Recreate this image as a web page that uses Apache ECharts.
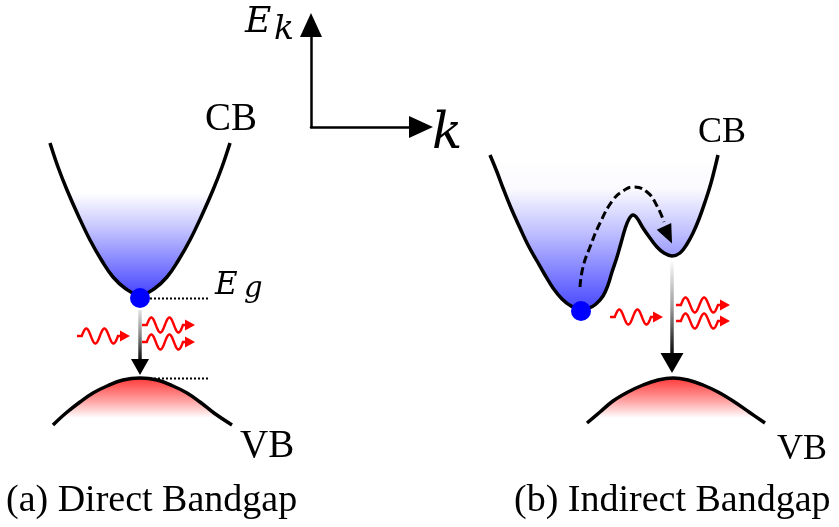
<!DOCTYPE html>
<html>
<head>
<meta charset="utf-8">
<title>Direct and Indirect Bandgap</title>
<script src="https://cdn.jsdelivr.net/npm/echarts@6/dist/echarts.min.js"></script>
<style>
  html, body { margin: 0; padding: 0; background: #ffffff; }
  #chart { width: 839px; height: 527px; }
</style>
</head>
<body>
<div id="chart"></div>
<script>
// Drawing frame: x runs left to right, y runs top to bottom (0 at the top edge).

// (a) direct gap: conduction band and valence band
const cbDirect = [[50,143],[58,167],[67,190],[78,215],[90,240],[102,261],[113,277],[126,289],[140,295],[154,289],[167,277],[178,261],[190,240],[202,215],[213,190],[222,167],[230,143]];
const vbDirect = [[53,425],[66,413],[80,402],[93,393],[107,386],[123,380],[140,378],[157,380],[173,386],[187,393],[200,402],[214,413],[232,425]];

// (b) indirect gap: conduction band with two valleys, valence band
const cbIndirect = [[490,155],[497,172],[503,188],[511,208],[520,228],[528,245],[537,261],[545,275],[553,288],[562,299],[571,306],[580,309],[589,308],[596,304],[603,296],[608,285],[612,272],[617,257],[621,243],[625,229],[629,219],[633,215],[637,218],[643,228],[650,238],[657,247],[664,253],[672,256],[680,253],[687,244],[693,233],[699,219],[705,202],[711,183],[718,155]];
const vbIndirect = [[587,423],[600,412],[613,401],[628,392],[643,385],[658,380],[673,378],[688,380],[703,385],[718,392],[733,401],[749,412],[765,423]];

// electron path between the valleys (phonon-assisted transfer)
const transferPath = [[580,287],[583,267],[590,247],[600,223],[613,200],[623,191],[633,187],[647,192],[657,206],[664,222]];
const transferHead = [[668,235]];

// electrons sitting at the conduction band minima
const electrons = [[140,298],[581,311]];

// band-edge reference levels (direct gap)
const gapTop = [[150,298.5],[210,298.5]];
const gapBottom = [[142,378.5],[210,378.5]];

// recombination arrows: shaft and arrowhead centre
const recombDirect = [[140,310],[140,360]];
const recombIndirect = [[672,262],[672,354]];
const headDirect = [[140,367]];
const headIndirect = [[672,363]];

// photons: [x start, y level, x end]
const photons = [[77,336,130],[142,325,195],[142,342,195],[610,317,663],[676,305,730],[676,321,730]];

// panel limits
const frameX = [0, 839];
const frameY = [0, 527];
const cbOriginDirect = 143, cbOriginIndirect = 155, vbOrigin = 425;

const SERIF = 'Liberation Serif';
const MATH = 'DejaVu Serif';

function vGrad(stops) {
  return { type: 'linear', x: 0, y: 0, x2: 0, y2: 1,
    colorStops: stops.map(s => ({ offset: s[0], color: s[1] })) };
}

const cbFillDirect = vGrad([[0,'#ffffff'],[0.33,'#ffffff'],[0.55,'#c8c8ff'],[1,'#4646ff']]);
const cbFillIndirect = vGrad([[0,'#ffffff'],[0.22,'#fafaff'],[0.5,'#c0c0ff'],[1,'#4848ff']]);
const vbFill = vGrad([[0,'#ff3a3a'],[0.45,'#ff9a9a'],[0.85,'#ffffff'],[1,'#ffffff']]);

function bandSeries(data, origin, fill) {
  return {
    type: 'line', data: data, smooth: 0.4, showSymbol: false, silent: true,
    lineStyle: { color: '#000', width: 3.5 },
    areaStyle: { origin: origin, color: fill, opacity: 1 },
    z: 3
  };
}

// photon glyph: short lead, two wave periods, arrowhead
function photonItem(params, api) {
  const p0 = api.coord([api.value(0), api.value(1)]);
  const p1 = api.coord([api.value(2), api.value(1)]);
  const len = p1[0] - p0[0];
  const lead = len * 0.09;
  const head = 10;
  const waveEnd = p1[0] - head - 2;
  const waveStart = p0[0] + lead;
  const amp = 7.5;
  const periods = 2;
  const pts = [[p0[0], p0[1]], [waveStart, p0[1]]];
  const n = 60;
  for (let i = 1; i <= n; i++) {
    const t = i / n;
    pts.push([waveStart + t * (waveEnd - waveStart), p0[1] - amp * Math.sin(t * periods * 2 * Math.PI)]);
  }
  pts.push([p1[0] - head + 1, p0[1]]);
  return {
    type: 'group',
    children: [
      { type: 'polyline', shape: { points: pts }, style: { stroke: '#ff0000', lineWidth: 2.4, fill: null } },
      { type: 'polygon', shape: { points: [[p1[0] - head, p0[1] - 5.5], [p1[0], p0[1]], [p1[0] - head, p0[1] + 5.5]] },
        style: { fill: '#ff0000' } }
    ]
  };
}

function label(text, x, baseline, size, italic, family) {
  return {
    type: 'text', x: x, y: baseline - 0.3 * size, z: 10,
    style: {
      text: text, fill: '#000',
      fontFamily: family || SERIF, fontSize: size, fontStyle: italic ? 'italic' : 'normal',
      align: 'left', verticalAlign: 'middle'
    }
  };
}

const chart = echarts.init(document.getElementById('chart'), null, { renderer: 'canvas' });

const hiddenAxis = { type: 'value', show: false, splitLine: { show: false } };
const arrowAxisLine = {
  show: true, onZero: true,
  symbol: ['none', 'triangle'], symbolSize: [22, 24],
  lineStyle: { color: '#000', width: 2.5 }
};

chart.setOption({
  backgroundColor: '#ffffff',
  animation: false,
  grid: [
    { left: 0, right: 0, top: 0, bottom: 0 },
    // E-k reference axes
    { left: 311, top: 25, width: 110, height: 102 }
  ],
  xAxis: [
    Object.assign({ gridIndex: 0, min: frameX[0], max: frameX[1] }, hiddenAxis),
    { type: 'value', gridIndex: 1, min: 0, max: 1, axisLine: arrowAxisLine,
      axisTick: { show: false }, axisLabel: { show: false }, splitLine: { show: false } }
  ],
  yAxis: [
    Object.assign({ gridIndex: 0, min: frameY[0], max: frameY[1], inverse: true }, hiddenAxis),
    { type: 'value', gridIndex: 1, min: 0, max: 1, axisLine: arrowAxisLine,
      axisTick: { show: false }, axisLabel: { show: false }, splitLine: { show: false } }
  ],
  series: [
    bandSeries(cbDirect, cbOriginDirect, cbFillDirect),
    bandSeries(vbDirect, vbOrigin, vbFill),
    bandSeries(cbIndirect, cbOriginIndirect, cbFillIndirect),
    bandSeries(vbIndirect, vbOrigin, vbFill),
    { type: 'line', data: gapTop, showSymbol: false, silent: true, z: 2,
      lineStyle: { color: '#000', width: 2, type: [2, 2] } },
    { type: 'line', data: gapBottom, showSymbol: false, silent: true, z: 2,
      lineStyle: { color: '#000', width: 2, type: [2, 2] } },
    { type: 'line', data: transferPath, smooth: 0.5, showSymbol: false, silent: true, z: 4,
      lineStyle: { color: '#000', width: 3, type: [8, 4] } },
    { type: 'scatter', data: transferHead, symbol: 'triangle', symbolSize: [16, 19], symbolRotate: 205,
      itemStyle: { color: '#000', opacity: 1 }, silent: true, z: 4 },
    { type: 'line', data: recombDirect, showSymbol: false, silent: true, z: 4,
      lineStyle: { width: 3.5, color: vGrad([[0,'#eeeeee'],[0.5,'#888888'],[1,'#000000']]) } },
    { type: 'line', data: recombIndirect, showSymbol: false, silent: true, z: 4,
      lineStyle: { width: 3.5, color: vGrad([[0,'#ffffff'],[0.5,'#999999'],[1,'#000000']]) } },
    { type: 'scatter', data: headDirect, symbol: 'triangle', symbolSize: [18, 16], symbolRotate: 180,
      itemStyle: { color: '#000', opacity: 1 }, silent: true, z: 4 },
    { type: 'scatter', data: headIndirect, symbol: 'triangle', symbolSize: [23, 20], symbolRotate: 180,
      itemStyle: { color: '#000', opacity: 1 }, silent: true, z: 4 },
    { type: 'custom', data: photons, renderItem: photonItem, silent: true, z: 5 },
    { type: 'scatter', data: electrons, symbol: 'circle', symbolSize: 20,
      itemStyle: { color: '#0000ff', opacity: 1 }, silent: true, z: 6 }
  ],
  graphic: [
    label('CB', 205, 131, 39, false),
    label('CB', 698, 143, 36, false),
    label('VB', 240, 458, 39, false),
    label('VB', 777, 460, 36, false),
    label('E', 215, 295, 31, true, MATH),
    label('g', 244, 298, 29, true, MATH),
    label('E', 245, 33, 36, true, MATH),
    label('k', 274, 40, 33, true, MATH),
    label('k', 432, 150, 50, true, MATH),
    label('(a) Direct Bandgap', 6, 512, 38, false),
    label('(b) Indirect Bandgap', 514, 512, 38, false)
  ]
});
</script>
</body>
</html>
